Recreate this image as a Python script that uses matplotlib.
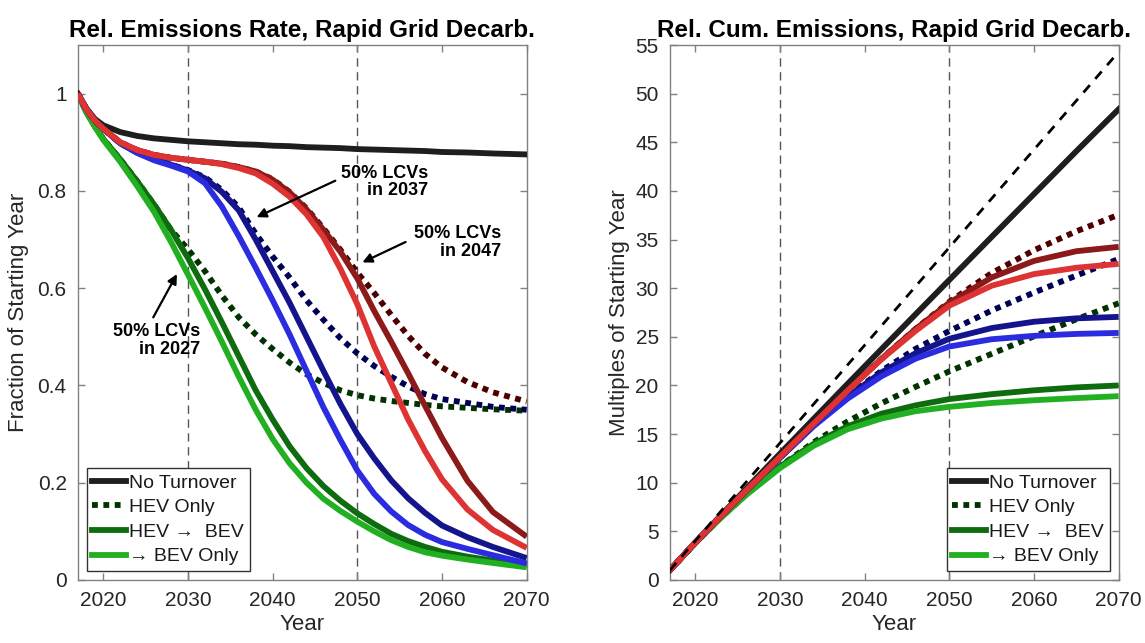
import matplotlib
matplotlib.use("Agg")
import matplotlib.pyplot as plt
from matplotlib.lines import Line2D

plt.rcParams['font.family'] = ['Liberation Sans', 'DejaVu Sans']

# ---- data ----
# left panel: emissions rate relative to the starting year
years_rate = [2017, 2018, 2019, 2020, 2022, 2024, 2026, 2028, 2030, 2032, 2034, 2036, 2038, 2040,
              2042, 2044, 2046, 2048, 2050, 2052, 2054, 2056, 2058, 2060, 2063, 2066, 2070]

rate_no_turnover = [1.000, 0.970, 0.948, 0.935, 0.921, 0.913, 0.908, 0.905, 0.902, 0.900, 0.898, 0.896, 0.895, 0.893,
                    0.892, 0.890, 0.889, 0.888, 0.886, 0.885, 0.884, 0.883, 0.882, 0.880, 0.879, 0.877, 0.875]

# 50% LCVs in 2027 (green)
rate_2027_hev = [1.000, 0.962, 0.933, 0.907, 0.865, 0.820, 0.772, 0.720, 0.680, 0.635, 0.585, 0.540, 0.505, 0.475,
                 0.447, 0.423, 0.405, 0.390, 0.380, 0.373, 0.368, 0.364, 0.360, 0.357, 0.354, 0.351, 0.348]
rate_2027_hev_bev = [1.000, 0.962, 0.933, 0.907, 0.865, 0.820, 0.772, 0.720, 0.662, 0.598, 0.530, 0.460, 0.390, 0.330,
                     0.275, 0.230, 0.193, 0.163, 0.137, 0.115, 0.095, 0.080, 0.068, 0.058, 0.048, 0.040, 0.031]
rate_2027_bev = [1.000, 0.962, 0.932, 0.905, 0.860, 0.810, 0.757, 0.695, 0.628, 0.560, 0.490, 0.418, 0.350, 0.290,
                 0.240, 0.200, 0.167, 0.142, 0.120, 0.100, 0.082, 0.068, 0.057, 0.050, 0.042, 0.035, 0.026]

# 50% LCVs in 2037 (blue)
rate_2037_hev = [1.000, 0.968, 0.945, 0.928, 0.898, 0.879, 0.865, 0.854, 0.843, 0.828, 0.802, 0.766, 0.712, 0.665,
                 0.622, 0.575, 0.535, 0.497, 0.466, 0.440, 0.418, 0.398, 0.382, 0.372, 0.364, 0.356, 0.350]
rate_2037_hev_bev = [1.000, 0.968, 0.945, 0.928, 0.898, 0.879, 0.865, 0.854, 0.842, 0.826, 0.798, 0.760, 0.700, 0.635,
                     0.570, 0.500, 0.430, 0.362, 0.300, 0.250, 0.205, 0.168, 0.138, 0.112, 0.088, 0.068, 0.045]
rate_2037_bev = [1.000, 0.968, 0.945, 0.928, 0.898, 0.878, 0.863, 0.852, 0.840, 0.816, 0.768, 0.707, 0.642, 0.575,
                 0.505, 0.430, 0.355, 0.288, 0.225, 0.177, 0.141, 0.113, 0.093, 0.078, 0.064, 0.051, 0.034]

# 50% LCVs in 2047 (red)
rate_2047_hev = [1.000, 0.968, 0.945, 0.928, 0.900, 0.884, 0.874, 0.868, 0.864, 0.860, 0.856, 0.849, 0.840, 0.824,
                 0.798, 0.764, 0.723, 0.679, 0.632, 0.590, 0.545, 0.502, 0.465, 0.437, 0.407, 0.386, 0.367]
rate_2047_hev_bev = [1.000, 0.968, 0.945, 0.928, 0.900, 0.884, 0.874, 0.868, 0.864, 0.860, 0.856, 0.849, 0.840, 0.823,
                     0.797, 0.762, 0.720, 0.675, 0.620, 0.553, 0.490, 0.425, 0.358, 0.292, 0.204, 0.140, 0.089]
rate_2047_bev = [1.000, 0.968, 0.945, 0.928, 0.900, 0.884, 0.874, 0.868, 0.864, 0.860, 0.855, 0.847, 0.836, 0.815,
                 0.788, 0.752, 0.705, 0.640, 0.567, 0.480, 0.405, 0.330, 0.265, 0.207, 0.145, 0.103, 0.066]

# right panel: cumulative emissions in multiples of the starting year
years_cum = [2017, 2020, 2023, 2026, 2030, 2034, 2038, 2042, 2046, 2050, 2055, 2060, 2065, 2070]

cum_no_turnover = [1.0, 3.85, 6.62, 9.36, 12.98, 16.58, 20.17, 23.74, 27.30, 30.85, 35.27, 39.68, 44.08, 48.40]
cum_2027_hev = [1.0, 3.80, 6.40, 8.80, 11.68, 14.17, 16.30, 18.17, 19.85, 21.45, 23.25, 25.05, 26.80, 28.45]
cum_2027_hev_bev = [1.0, 3.80, 6.40, 8.80, 11.65, 14.00, 15.80, 17.10, 17.95, 18.60, 19.10, 19.50, 19.80, 20.00]
cum_2027_bev = [1.0, 3.80, 6.38, 8.73, 11.50, 13.80, 15.50, 16.60, 17.35, 17.80, 18.20, 18.48, 18.70, 18.90]
cum_2037_hev = [1.0, 3.84, 6.54, 9.16, 12.57, 15.90, 18.90, 21.50, 23.75, 25.60, 27.70, 29.55, 31.30, 33.00]
cum_2037_hev_bev = [1.0, 3.84, 6.54, 9.16, 12.57, 15.88, 18.85, 21.35, 23.30, 24.80, 25.90, 26.55, 26.90, 27.05]
cum_2037_bev = [1.0, 3.84, 6.54, 9.15, 12.55, 15.83, 18.65, 20.95, 22.75, 24.00, 24.75, 25.10, 25.30, 25.40]
cum_2047_hev = [1.0, 3.84, 6.55, 9.18, 12.65, 16.09, 19.48, 22.75, 25.80, 28.60, 31.55, 33.90, 35.85, 37.55]
cum_2047_hev_bev = [1.0, 3.84, 6.55, 9.18, 12.65, 16.09, 19.48, 22.74, 25.78, 28.50, 31.10, 32.80, 33.80, 34.25]
cum_2047_bev = [1.0, 3.84, 6.55, 9.18, 12.65, 16.09, 19.47, 22.70, 25.60, 28.20, 30.25, 31.45, 32.10, 32.50]

# dashed reference line (no improvement at all)
years_ref = [2017, 2070]
cum_ref = [1.0, 54.3]

legend_labels = ['No Turnover', 'HEV Only', 'HEV \u2192  BEV', '\u2192 BEV Only']

# ---- styling ----
LW = 4.2
DOT = (0, (1, 0.95))
c_black = '#1e1e1e'
greens = ['#003300', '#0e6b0e', '#22b022']
blues = ['#000055', '#14148c', '#2b2be0']
reds = ['#4d0000', '#8c1a1a', '#dd3333']
axis_grey = '#808080'
text_grey = '#262626'


def style_axes(ax):
    """MATLAB-like box with inward ticks on all sides."""
    for spine in ax.spines.values():
        spine.set_color(axis_grey)
        spine.set_linewidth(1.0)
    ax.tick_params(direction='in', top=True, right=True, length=5, width=1,
                   color=axis_grey, labelcolor=text_grey, labelsize=15, pad=8)
    ax.set_xlim(2017, 2070)
    ax.set_xticks([2020, 2030, 2040, 2050, 2060, 2070])
    ax.set_xlabel('Year', fontsize=16, color=text_grey, labelpad=3)
    for yr in (2030, 2050):
        ax.axvline(yr, color='#555555', lw=1.0, linestyle=(0, (6, 4)), zorder=1)


def plot_group(ax, x, series, colors):
    dotted, dark, bright = series
    ax.plot(x, dotted, color=colors[0], lw=LW, linestyle=DOT, dash_capstyle='butt', zorder=3)
    ax.plot(x, dark, color=colors[1], lw=LW, solid_capstyle='butt', zorder=3)
    ax.plot(x, bright, color=colors[2], lw=LW, solid_capstyle='butt', zorder=3)


def add_legend(ax, loc):
    handles = [
        Line2D([], [], color=c_black, lw=LW),
        Line2D([], [], color=greens[0], lw=LW, linestyle=DOT, dash_capstyle='butt'),
        Line2D([], [], color=greens[1], lw=LW),
        Line2D([], [], color=greens[2], lw=LW),
    ]
    leg = ax.legend(handles, legend_labels, loc=loc, fontsize=14, fancybox=False,
                    edgecolor='#333333', framealpha=1, handlelength=1.75,
                    handletextpad=0.15, labelspacing=0.36, borderpad=0.3,
                    borderaxespad=0.45)
    leg.get_frame().set_linewidth(1.0)
    for t in leg.get_texts():
        t.set_color('#1a1a1a')


fig = plt.figure(figsize=(11.45, 6.43), dpi=100)
ax1 = fig.add_axes([0.068, 0.098, 0.392, 0.832])
ax2 = fig.add_axes([0.585, 0.098, 0.392, 0.832])

# ---- left: relative emissions rate ----
style_axes(ax1)
ax1.plot(years_rate, rate_no_turnover, color=c_black, lw=LW, zorder=3)
plot_group(ax1, years_rate, (rate_2027_hev, rate_2027_hev_bev, rate_2027_bev), greens)
plot_group(ax1, years_rate, (rate_2037_hev, rate_2037_hev_bev, rate_2037_bev), blues)
plot_group(ax1, years_rate, (rate_2047_hev, rate_2047_hev_bev, rate_2047_bev), reds)
ax1.set_ylim(0, 1.1)
ax1.set_yticks([0, 0.2, 0.4, 0.6, 0.8, 1.0])
ax1.set_yticklabels(['0', '0.2', '0.4', '0.6', '0.8', '1'])
ax1.set_ylabel('Fraction of Starting Year', fontsize=16, color=text_grey, labelpad=6)
ax1.set_title('Rel. Emissions Rate, Rapid Grid Decarb.', fontsize=17.5, fontweight='bold', pad=6)

arrow = dict(arrowstyle='-|>', color='black', lw=1.6, mutation_scale=14, shrinkA=0, shrinkB=0)
ax1.annotate('', xy=(2038.1, 0.746), xytext=(2047.4, 0.821), arrowprops=arrow, zorder=5)
ax1.text(2058.4, 0.818, '50% LCVs\nin 2037', ha='right', va='center', multialignment='right',
         fontsize=13, fontweight='bold', linespacing=1.05, zorder=5)
ax1.annotate('', xy=(2050.6, 0.653), xytext=(2055.7, 0.695), arrowprops=arrow, zorder=5)
ax1.text(2067.0, 0.694, '50% LCVs\nin 2047', ha='right', va='center', multialignment='right',
         fontsize=13, fontweight='bold', linespacing=1.05, zorder=5)
ax1.annotate('', xy=(2028.7, 0.629), xytext=(2025.9, 0.54), arrowprops=arrow, zorder=5)
ax1.text(2031.4, 0.493, '50% LCVs\nin 2027', ha='right', va='center', multialignment='right',
         fontsize=13, fontweight='bold', linespacing=1.05, zorder=5)
add_legend(ax1, 'lower left')

# ---- right: relative cumulative emissions ----
style_axes(ax2)
ax2.plot(years_cum, cum_no_turnover, color=c_black, lw=LW, zorder=3)
plot_group(ax2, years_cum, (cum_2027_hev, cum_2027_hev_bev, cum_2027_bev), greens)
plot_group(ax2, years_cum, (cum_2037_hev, cum_2037_hev_bev, cum_2037_bev), blues)
plot_group(ax2, years_cum, (cum_2047_hev, cum_2047_hev_bev, cum_2047_bev), reds)
ax2.plot(years_ref, cum_ref, color='black', lw=2, linestyle=(0, (3.5, 3)), zorder=4)
ax2.set_ylim(0, 55)
ax2.set_yticks(range(0, 56, 5))
ax2.set_ylabel('Multiples of Starting Year', fontsize=16, color=text_grey, labelpad=4)
ax2.set_title('Rel. Cum. Emissions, Rapid Grid Decarb.', fontsize=17.5, fontweight='bold', pad=6)
add_legend(ax2, 'lower right')

fig.savefig('out.png', dpi=100)
